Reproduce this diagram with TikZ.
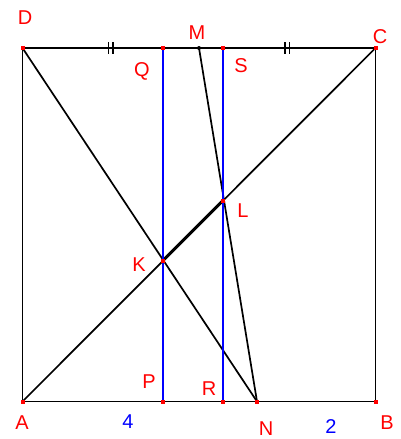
\documentclass[tikz,border=0pt]{standalone}
\usepackage{fontspec}
\setmainfont{Liberation Sans}
\begin{document}
\begin{tikzpicture}[x=1pt,y=-1pt,
  pt/.style={fill=red,draw=none,minimum size=4pt,inner sep=0pt,rectangle},
  lbl/.style={text=red,font=\fontsize{20}{20}\selectfont,inner sep=0pt},
  num/.style={text=blue,font=\fontsize{20}{20}\selectfont,inner sep=0pt},
  seg/.style={black,line width=1.7pt},
  bl/.style={blue,line width=1.5pt}]
\useasboundingbox (0,0) rectangle (401,439);
\coordinate (A) at (22.5,401.5);
\coordinate (B) at (375.5,401.5);
\coordinate (C) at (375.5,48);
\coordinate (D) at (22.5,48);
\coordinate (M) at (199,48);
\coordinate (Q) at (163,48);
\coordinate (S) at (223,48);
\coordinate (P) at (163,401.5);
\coordinate (R) at (223,401.5);
\coordinate (N) at (257,401.5);
\coordinate (K) at (163,260.5);
\coordinate (L) at (223,200.5);
\draw[seg] (A) -- (B) -- (C) -- (D) -- cycle;
\draw[seg] (A) -- (C);
\draw[seg] (D) -- (N);
\draw[seg] (M) -- (N);
\draw[black,line width=3pt] (K) -- (L);
\draw[bl] (Q) -- (P);
\draw[bl] (S) -- (R);
% ticks
\draw[seg] (108.5,42) -- (108.5,54) (113,42) -- (113,54);
\draw[seg] (285,42) -- (285,54) (289.5,42) -- (289.5,54);
\foreach \p in {A,B,C,D,Q,S,P,R,N,K,L} \node[pt] at (\p) {};
\node[fill=black,circle,minimum size=4pt,inner sep=0pt] at (M) {};
\node[lbl] (lD) at (25,18) {D};
\node[lbl] (lM) at (197,33) {M};
\node[lbl] (lC) at (380,37) {C};
\node[lbl] (lQ) at (142,71) {Q};
\node[lbl] (lS) at (241,66) {S};
\node[lbl] (lL) at (243,211) {L};
\node[lbl] (lK) at (139,265) {K};
\node[lbl] (lP) at (149,382) {P};
\node[lbl] (lR) at (209,389) {R};
\node[lbl] (lA) at (22,423) {A};
\node[num] (l4) at (128,422) {4};
\node[lbl] (lN) at (266,429) {N};
\node[num] (l2) at (331,427) {2};
\node[lbl] (lB) at (387,423) {B};
\end{tikzpicture}
\end{document}
